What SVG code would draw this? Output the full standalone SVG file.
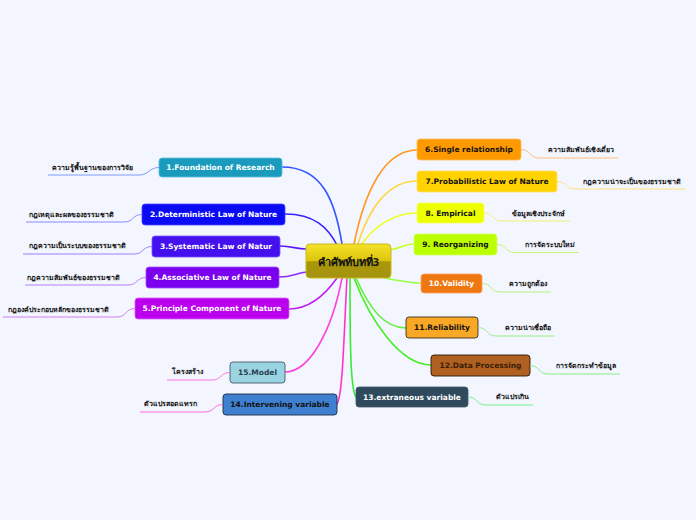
<svg xmlns="http://www.w3.org/2000/svg" width="696" height="520" viewBox="0 0 696 520">
<defs>
<linearGradient id="cg" x1="0" y1="0" x2="0" y2="1">
<stop offset="0" stop-color="#f6e22a"/>
<stop offset="0.5" stop-color="#dcc40c"/>
<stop offset="0.52" stop-color="#aa9808"/>
<stop offset="1" stop-color="#a39210"/>
</linearGradient>
<style>
.nt{font-family:"DejaVu Sans",Verdana,sans-serif;font-weight:bold;font-size:7.5px;text-anchor:middle}
.st{font-family:"Noto Sans","DejaVu Sans",sans-serif;font-size:7px;font-weight:bold;fill:#111;text-anchor:middle}
.c{fill:none;stroke-width:1.6;stroke-linecap:round}
.s{fill:none;stroke-width:1}
.w{fill:#fff}
.k{fill:#111}
</style>
</defs>
<rect width="696" height="520" fill="#f3f6fe"/>
<g id="connectors">
<path class="c" stroke="#3355ff" d="M282,167 C322,167 335,200 342,244"/>
<path class="c" stroke="#3a22ff" d="M285,214 C315,214 328,228 337,245"/>
<path class="c" stroke="#5a18ff" d="M280,246 C292,246 296,249 306,249"/>
<path class="c" stroke="#8a2cff" d="M279,277 C292,277 296,273 307,272"/>
<path class="c" stroke="#c020f2" d="M289,309 C310,309 325,295 337,278"/>
<path class="c" stroke="#ff44dd" d="M285,372 C310,372 332,330 342,278"/>
<path class="c" stroke="#ff33cc" d="M337,404 C343,395 344,330 347,278"/>
<path class="c" stroke="#ff9922" d="M354,244 C365,190 385,150 417,150"/>
<path class="c" stroke="#ffd640" d="M358,244 C370,205 390,181 417,181"/>
<path class="c" stroke="#eeff22" d="M362,244 C375,225 395,213 417,213"/>
<path class="c" stroke="#c4ff28" d="M390,250 C400,248 405,244 414,244"/>
<path class="c" stroke="#99ff44" d="M385,278 C400,281 410,283 421,283"/>
<path class="c" stroke="#66ee44" d="M356,278 C370,310 385,328 406,328"/>
<path class="c" stroke="#44ee22" d="M354,278 C370,320 400,365 431,365"/>
<path class="c" stroke="#33ee33" d="M350,278 C350,330 350,390 356,397"/>
</g>
<g id="center">
<rect x="306" y="244" width="85" height="34" rx="4" fill="url(#cg)" stroke="#c8b820" stroke-width="1"/>
<text x="348.5" y="266" font-family="'Noto Sans','DejaVu Sans',sans-serif" font-size="11" font-weight="bold" text-anchor="middle" fill="#111">คำศัพท์บทที่3</text>
</g>
<g id="n1">
<rect x="159" y="158" width="123" height="19" rx="3" fill="#1a9bbd" stroke="#5cc0dc" stroke-width="0.8"/>
<text class="nt w" x="220.5" y="170.3">1.Foundation of Research</text>
<path class="s" stroke="#7f9cff" d="M159,167.5 C149,167.5 149,175 139,175 L48,175"/>
<text class="st" x="92" y="169.5">ความรู้พื้นฐานของการวิจัย</text>
</g>
<g id="n2">
<rect x="142" y="204" width="143" height="21" rx="3" fill="#0a0af5" stroke="#4a4aff" stroke-width="0.8"/>
<text class="nt w" x="213.5" y="217.3">2.Deterministic Law of Nature</text>
<path class="s" stroke="#8a88ff" d="M142,214.5 C132,214.5 134,222 124,222 L26,222"/>
<text class="st" x="71" y="216.5">กฎเหตุและผลของธรรมชาติ</text>
</g>
<g id="n3">
<rect x="152" y="236" width="128" height="21" rx="3" fill="#4411ee" stroke="#7a55ff" stroke-width="0.8"/>
<text class="nt w" x="216" y="249.3">3.Systematic Law of Natur</text>
<path class="s" stroke="#a07cff" d="M152,246.5 C142,246.5 144,254 134,254 L23,254"/>
<text class="st" x="77" y="248">กฎความเป็นระบบของธรรมชาติ</text>
</g>
<g id="n4">
<rect x="146" y="267" width="133" height="21" rx="3" fill="#7a00ee" stroke="#a050ff" stroke-width="0.8"/>
<text class="nt w" x="212.5" y="280.3">4.Associative Law of Nature</text>
<path class="s" stroke="#b680ff" d="M146,277.5 C136,277.5 138,285 128,285 L25,285"/>
<text class="st" x="73" y="280">กฎความสัมพันธ์ของธรรมชาติ</text>
</g>
<g id="n5">
<rect x="135" y="298" width="154" height="21" rx="3" fill="#bb00ee" stroke="#d860ff" stroke-width="0.8"/>
<text class="nt w" x="212" y="311.3">5.Principle Component of Nature</text>
<path class="s" stroke="#d47cf6" d="M135,308.5 C125,308.5 127,317 117,317 L3,317"/>
<text class="st" x="58" y="311.5">กฎองค์ประกอบหลักของธรรมชาติ</text>
</g>
<g id="n15">
<rect x="230" y="362" width="55" height="21" rx="3" fill="#9ad4e2" stroke="#4a5a66" stroke-width="0.9"/>
<text class="nt" fill="#2a4050" x="257.5" y="375.3">15.Model</text>
<path class="s" stroke="#ff77e6" d="M230,372.5 C220,372.5 222,380 212,380 L167,380"/>
<text class="st" x="187.5" y="374">โครงสร้าง</text>
</g>
<g id="n14">
<rect x="223" y="394" width="114" height="21" rx="3" fill="#3f7fd0" stroke="#1c2c44" stroke-width="0.9"/>
<text class="nt k" x="280" y="407.3">14.Intervening variable</text>
<path class="s" stroke="#ff66dd" d="M223,404.5 C213,404.5 215,412 205,412 L140,412"/>
<text class="st" x="170" y="406">ตัวแปรสอดแทรก</text>
</g>
<g id="n6">
<rect x="417" y="139" width="104" height="21" rx="3" fill="#ff9900" stroke="#ffbb55" stroke-width="0.8"/>
<text class="nt k" x="469" y="152.3">6.Single relationship</text>
<path class="s" stroke="#ffc07a" d="M521,149.5 C531,149.5 529,158 539,158 L618,158"/>
<text class="st" x="581" y="152">ความสัมพันธ์เชิงเดี่ยว</text>
</g>
<g id="n7">
<rect x="417" y="171" width="140" height="21" rx="3" fill="#ffd200" stroke="#ffe066" stroke-width="0.8"/>
<text class="nt k" x="487" y="184.3">7.Probabilistic Law of Nature</text>
<path class="s" stroke="#ffe080" d="M557,181.5 C567,181.5 565,189 575,189 L685,189"/>
<text class="st" x="632" y="183.5">กฎความน่าจะเป็นของธรรมชาติ</text>
</g>
<g id="n8">
<rect x="417" y="203" width="67" height="20" rx="3" fill="#eeff00" stroke="#f6ff66" stroke-width="0.8"/>
<text class="nt k" x="450.5" y="215.8">8. Empirical</text>
<path class="s" stroke="#f2f070" d="M484,213 C494,213 492,221 502,221 L570,221"/>
<text class="st" x="538.5" y="215.5">ข้อมูลเชิงประจักษ์</text>
</g>
<g id="n9">
<rect x="414" y="234" width="83" height="21" rx="3" fill="#bbff00" stroke="#d4ff66" stroke-width="0.8"/>
<text class="nt k" x="455.5" y="247.3">9. Reorganizing</text>
<path class="s" stroke="#ccf27a" d="M497,244.5 C507,244.5 505,252.5 515,252.5 L579,252.5"/>
<text class="st" x="550" y="247">การจัดระบบใหม่</text>
</g>
<g id="n10">
<rect x="421" y="274" width="61" height="19" rx="3" fill="#ee7711" stroke="#ffa060" stroke-width="0.8"/>
<text class="nt w" x="451.5" y="286.3">10.Validity</text>
<path class="s" stroke="#b8f27a" d="M482,283.5 C492,283.5 490,292 500,292 L551,292"/>
<text class="st" x="528" y="285.5">ความถูกต้อง</text>
</g>
<g id="n11">
<rect x="406" y="317" width="72" height="21" rx="3" fill="#f9a825" stroke="#3a3020" stroke-width="0.9"/>
<text class="nt k" x="442" y="330.3">11.Reliability</text>
<path class="s" stroke="#99ee88" d="M478,327.5 C488,327.5 486,336 496,336 L555,336"/>
<text class="st" x="528" y="329.5">ความน่าเชื่อถือ</text>
</g>
<g id="n12">
<rect x="431" y="355" width="99" height="21" rx="3" fill="#b06020" stroke="#2a1a0a" stroke-width="0.9"/>
<text class="nt" fill="#3a1e06" x="480.5" y="368.3">12.Data Processing</text>
<path class="s" stroke="#88ee88" d="M530,365.5 C540,365.5 538,374 548,374 L620,374"/>
<text class="st" x="586" y="368">การจัดกระทำข้อมูล</text>
</g>
<g id="n13">
<rect x="356" y="387" width="112" height="20" rx="3" fill="#2e4a5c" stroke="#3e5a6c" stroke-width="0.8"/>
<text class="nt w" x="412" y="399.8">13.extraneous variable</text>
<path class="s" stroke="#77ee88" d="M468,397 C478,397 476,405 486,405 L533,405"/>
<text class="st" x="512.5" y="399">ตัวแปรเกิน</text>
</g>
</svg>
